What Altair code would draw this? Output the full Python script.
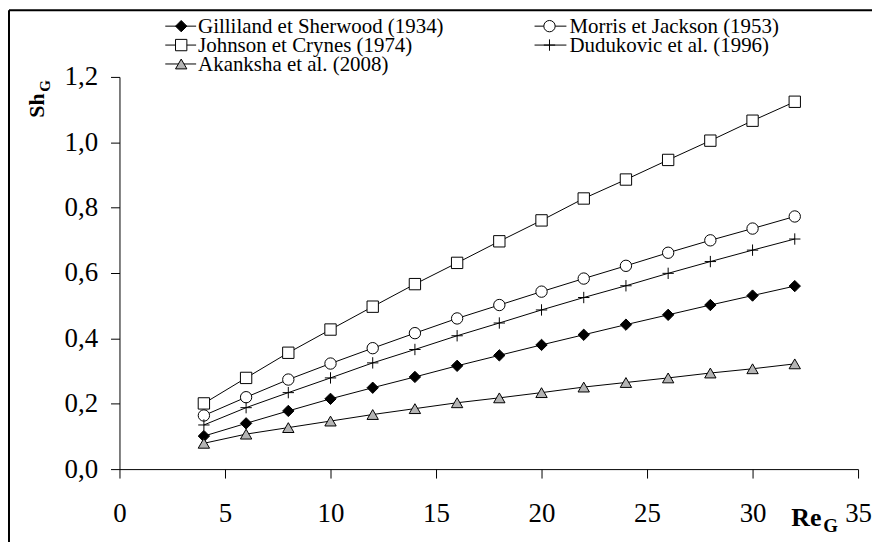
import altair as alt
import pandas as pd

re_g = [4, 6, 8, 10, 12, 14, 16, 18, 20, 22, 24, 26, 28, 30, 32]
gilliland = [0.101, 0.140, 0.178, 0.215, 0.249, 0.282, 0.316, 0.348, 0.380, 0.411, 0.442, 0.472, 0.502, 0.531, 0.560]
morris = [0.164, 0.220, 0.274, 0.323, 0.370, 0.416, 0.461, 0.502, 0.543, 0.583, 0.622, 0.662, 0.700, 0.736, 0.773]
johnson = [0.201, 0.279, 0.356, 0.427, 0.497, 0.566, 0.631, 0.697, 0.761, 0.828, 0.886, 0.946, 1.005, 1.066, 1.124]
dudukovic = [0.135, 0.188, 0.234, 0.279, 0.325, 0.366, 0.408, 0.447, 0.487, 0.525, 0.561, 0.599, 0.635, 0.670, 0.704]
akanksha = [0.079, 0.107, 0.127, 0.147, 0.167, 0.185, 0.203, 0.218, 0.234, 0.251, 0.265, 0.279, 0.294, 0.307, 0.322]

names = ["Gilliland et Sherwood (1934)", "Morris et Jackson (1953)",
         "Johnson et Crynes (1974)", "Dudukovic et al. (1996)",
         "Akanksha et al. (2008)"]
series_vals = [gilliland, morris, johnson, dudukovic, akanksha]

plus_path = "M-1,0L1,0M0,-1L0,1"
shapes = ["diamond", "circle", "square", plus_path, "triangle-up"]
fills = ["black", "white", "white", "white", "#b4b4b4"]

x_ticks = [0, 5, 10, 15, 20, 25, 30, 35]
y_ticks = [0.0, 0.2, 0.4, 0.6, 0.8, 1.0, 1.2]

rows = []
for name, vals in zip(names, series_vals):
    for r, v in zip(re_g, vals):
        rows.append({"series": name, "re": r, "sh": v})
df = pd.DataFrame(rows)

FONT = "Liberation Serif"
W, H = 742, 394
PL, PT = 112, 68

xenc = alt.X("re:Q", scale=alt.Scale(domain=[0, 35], nice=False),
             axis=alt.Axis(values=x_ticks, title=None, labelBaseline="alphabetic",
                           labelPadding=44, format="d", labelFlush=False,
                           labelOverlap=False))
yenc = alt.Y("sh:Q", scale=alt.Scale(domain=[0, 1.2], nice=False),
             axis=alt.Axis(values=y_ticks, title=None, labelPadding=13,
                           labelFlush=False, labelOverlap=False,
                           labelExpr="replace(format(datum.value, '.1f'), '.', ',')"))

shape_scale = alt.Scale(domain=names, range=shapes)
fill_scale = alt.Scale(domain=names, range=fills)

base = alt.Chart(df)
lines = base.mark_line(color="black", strokeWidth=1).encode(
    x=xenc, y=yenc, detail="series:N", order="re:Q")
points = base.mark_point(filled=True, stroke="black", strokeWidth=1, opacity=1, size=130).encode(
    x="re:Q", y="sh:Q",
    shape=alt.Shape("series:N", scale=shape_scale, legend=None),
    fill=alt.Fill("series:N", scale=fill_scale, legend=None))

one = pd.DataFrame({"a": [0]})
layers = [lines, points]

# manual legend (layout positions in pixels relative to plot area)
col_x = [(46, 77, 62, 79), (417, 449, 432, 452)]
row_y = [-51, -32, -13]
for i, name in enumerate(names):
    c, r = i % 2, i // 2
    x1, x2, xm, xt = col_x[c]
    y = row_y[r]
    layers.append(alt.Chart(one).mark_rule(color="black", strokeWidth=1).encode(
        x=alt.value(x1), x2=alt.value(x2), y=alt.value(y)))
    layers.append(alt.Chart(one).mark_point(filled=True, stroke="black", strokeWidth=1,
                                            opacity=1, size=130, shape=shapes[i],
                                            fill=fills[i]).encode(
        x=alt.value(xm), y=alt.value(y)))
    layers.append(alt.Chart(one).mark_text(font=FONT, fontSize=21, align="left",
                                           baseline="middle", color="black",
                                           text=name).encode(
        x=alt.value(xt), y=alt.value(y + 1)))

# axis titles
layers.append(alt.Chart(one).mark_text(font=FONT, fontSize=22, fontWeight="bold", angle=270,
                                       align="left", baseline="alphabetic", text="Sh",
                                       color="black").encode(x=alt.value(-76), y=alt.value(41)))
layers.append(alt.Chart(one).mark_text(font=FONT, fontSize=15, fontWeight="bold", angle=270,
                                       align="left", baseline="alphabetic", text="G",
                                       color="black").encode(x=alt.value(-70), y=alt.value(15)))
layers.append(alt.Chart(one).mark_text(font=FONT, fontSize=26, fontWeight="bold",
                                       align="left", baseline="alphabetic", text="Re",
                                       color="black").encode(x=alt.value(675), y=alt.value(451)))
layers.append(alt.Chart(one).mark_text(font=FONT, fontSize=19, fontWeight="bold",
                                       align="left", baseline="alphabetic", text="G",
                                       color="black").encode(x=alt.value(707), y=alt.value(457)))

# frame (top and left edges)
layers.append(alt.Chart(one).mark_rule(color="black", strokeWidth=2).encode(
    x=alt.value(-111), x2=alt.value(770), y=alt.value(-67)))
layers.append(alt.Chart(one).mark_rule(color="black", strokeWidth=2).encode(
    x=alt.value(-111), y=alt.value(-67), y2=alt.value(480)))

chart = alt.layer(*layers).properties(
    width=W, height=H,
    autosize=alt.AutoSizeParams(type="none"),
    padding={"left": PL, "top": PT, "right": 14, "bottom": 72},
    background="white",
).configure_view(stroke=None).configure_axis(
    labelFont=FONT, labelFontSize=27, labelColor="black",
    domainColor="black", domainWidth=1, tickColor="black", tickWidth=1, tickSize=9,
    grid=False,
)

chart.save("out.html", embed_options={"renderer": "svg", "actions": False})
